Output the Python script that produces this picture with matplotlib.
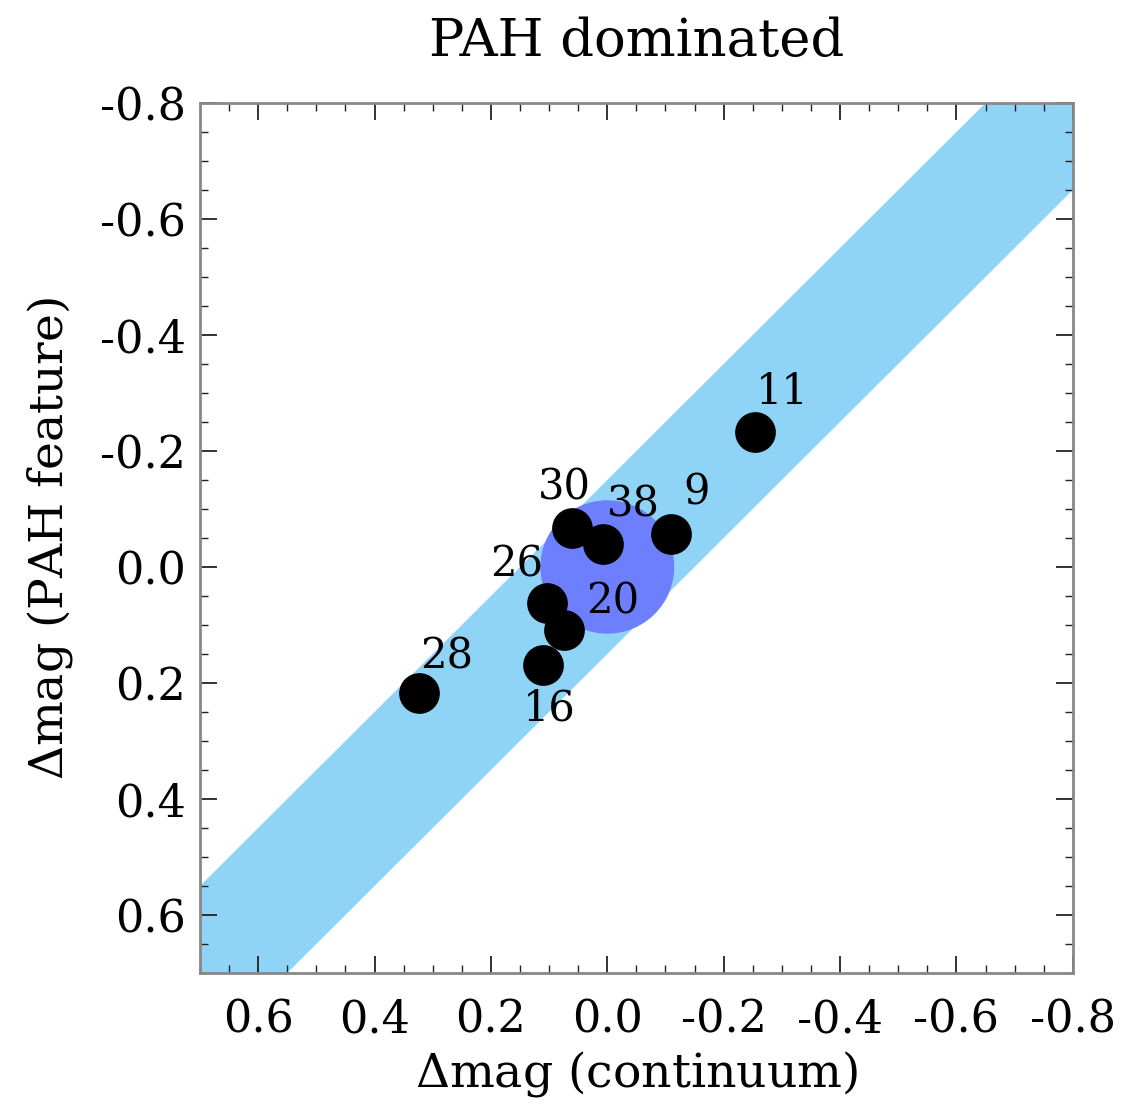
import matplotlib
matplotlib.use("Agg")
import matplotlib.pyplot as plt
from matplotlib.patches import Circle
from matplotlib.ticker import MultipleLocator
import numpy as np

# data
labels = ["11", "9", "38", "30", "26", "20", "16", "28"]
dmag_cont = [-0.253, -0.110, 0.007, 0.060, 0.103, 0.074, 0.110, 0.324]
dmag_pah = [-0.233, -0.057, -0.040, -0.067, 0.062, 0.109, 0.169, 0.217]
band_halfwidth = 0.15
circle_radius = 0.115
xticks = [0.6, 0.4, 0.2, 0.0, -0.2, -0.4, -0.6, -0.8]
yticks = [-0.8, -0.6, -0.4, -0.2, 0.0, 0.2, 0.4, 0.6]

# label offsets in points
offsets = {"11": (20, 29), "9": (18, 30), "38": (22, 28), "30": (-6, 29),
           "26": (-22, 28), "20": (35, 21), "16": (4, -31), "28": (20, 26)}

plt.rcParams['font.family'] = ['DejaVu Serif']
plt.rcParams['mathtext.fontset'] = 'dejavuserif'

fig = plt.figure(figsize=(11.21, 11.05), dpi=100)
ax = fig.add_axes([0.1784, 0.1195, 0.957 - 0.1784, 0.9068 - 0.1195])

xlim = (0.7, -0.8)
ylim = (0.7, -0.8)
xx = np.linspace(-1.0, 1.0, 50)
ax.fill_between(xx, xx - band_halfwidth, xx + band_halfwidth, color='#8fd3f7', lw=0, zorder=1)
ax.add_patch(Circle((0, 0), circle_radius, color='#6e7ffd', lw=0, zorder=2))
ax.scatter(dmag_cont, dmag_pah, s=860, c='black', zorder=3, lw=0)
for lab, x, y in zip(labels, dmag_cont, dmag_pah):
    ax.annotate(lab, (x, y), xytext=offsets[lab], textcoords='offset points',
                ha='center', va='center', fontsize=30, zorder=4)

ax.set_xlim(*xlim)
ax.set_ylim(*ylim)
ax.set_xticks(xticks)
ax.set_yticks(yticks)
ax.set_xticklabels([f"{t:.1f}" if t != 0 else "0.0" for t in xticks])
ax.set_yticklabels([f"{t:.1f}" if t != 0 else "0.0" for t in yticks])
ax.xaxis.set_minor_locator(MultipleLocator(0.05))
ax.yaxis.set_minor_locator(MultipleLocator(0.05))
ax.tick_params(which='both', direction='in', top=True, right=True, colors='#222222', labelcolor='black')
ax.tick_params(which='major', length=12, width=1.3, labelsize=32, pad=10)
ax.tick_params(axis='x', which='major', pad=18)
ax.tick_params(which='minor', length=6, width=1.0)
for s in ax.spines.values():
    s.set_color('#888888')
    s.set_linewidth(2)

ax.set_xlabel(r"$\Delta$mag (continuum)", fontsize=34, labelpad=6)
ax.set_ylabel(r"$\Delta$mag (PAH feature)", fontsize=34, labelpad=18)
ax.set_title("PAH dominated", fontsize=38, pad=34)

fig.savefig("out.png", dpi=100)
